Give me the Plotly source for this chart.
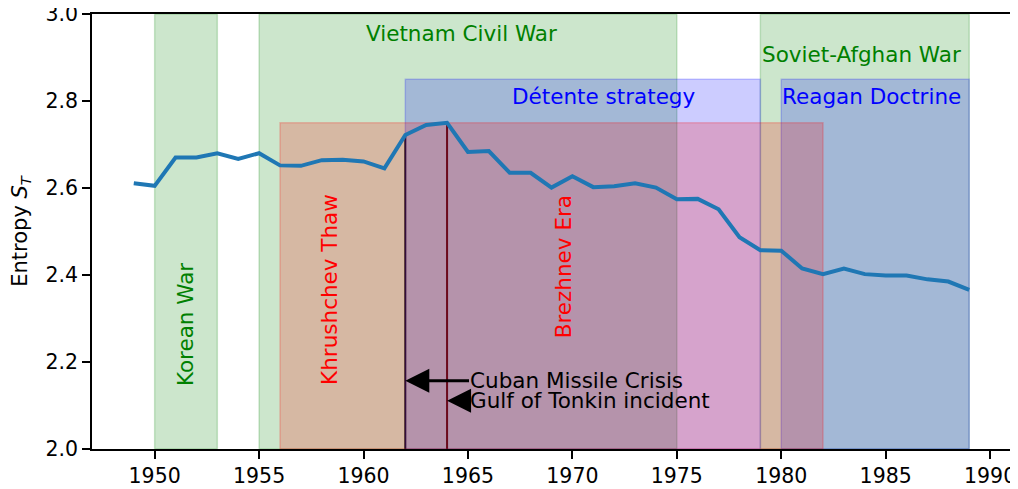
import plotly.graph_objects as go

years = list(range(1949, 1990))
entropy = [2.611, 2.605, 2.670, 2.670, 2.680, 2.667, 2.680, 2.652, 2.651, 2.664,
           2.665, 2.661, 2.645, 2.722, 2.745, 2.750, 2.683, 2.685, 2.635, 2.635,
           2.601, 2.627, 2.602, 2.604, 2.611, 2.601, 2.574, 2.575, 2.551, 2.487,
           2.457, 2.456, 2.415, 2.402, 2.415, 2.402, 2.399, 2.399, 2.390, 2.385,
           2.366]

# spans: (label, start, end, top, colour)
span_labels = ["Korean War", "Vietnam Civil War", "Soviet-Afghan War",
               "Détente strategy", "Reagan Doctrine", "Khrushchev Thaw", "Brezhnev Era"]
span_start = [1950, 1955, 1979, 1962, 1980, 1956, 1964]
span_end = [1953, 1975, 1989, 1979, 1989, 1964, 1982]
span_top = [3.0, 3.0, 3.0, 2.85, 2.85, 2.75, 2.75]
span_rgb = ["0,128,0", "0,128,0", "0,128,0", "0,0,255", "0,0,255", "255,0,0", "255,0,0"]

# label positions
label_x = [1951.45, 1964.7, 1983.85, 1971.5, 1984.3, 1958.4, 1969.55]
label_y = [2.287, 2.955, 2.908, 2.81, 2.81, 2.366, 2.42]
label_angle = [-90, 0, 0, 0, 0, -90, -90]
label_color = ["green", "green", "green", "blue", "blue", "red", "red"]

events = ["Cuban Missile Crisis", "Gulf of Tonkin incident"]
event_year = [1962, 1964]
event_arrow_y = [2.157, 2.111]
event_text_x = [1965.05, 1965.05]

FONT = "DejaVu Sans"
TICKFONT = dict(family=FONT, size=20.5, color="black")

fig = go.Figure()

shapes = []
# event vertical lines (drawn first, under the spans)
for yr in event_year:
    val = entropy[years.index(yr)]
    shapes.append(dict(type="line", xref="x", yref="y", x0=yr, x1=yr, y0=2.0, y1=val,
                       line=dict(color="black", width=2), layer="below"))
for s, e, t, c in zip(span_start, span_end, span_top, span_rgb):
    shapes.append(dict(type="rect", xref="x", yref="y", x0=s, x1=e, y0=2.0, y1=t,
                       fillcolor=f"rgba({c},0.2)",
                       line=dict(color=f"rgba({c},0.2)", width=1.5), layer="below"))

fig.add_trace(go.Scatter(x=years, y=entropy, mode="lines",
                         line=dict(color="#1f77b4", width=4), showlegend=False,
                         hoverinfo="skip"))

annotations = []
for lab, lx, ly, ang, col in zip(span_labels, label_x, label_y, label_angle, label_color):
    annotations.append(dict(x=lx, y=ly, xref="x", yref="y", text=lab, showarrow=False,
                            textangle=ang, font=dict(family=FONT, size=21.5, color=col),
                            xanchor="center", yanchor="middle"))
for ev, yr, ay, tx in zip(events, event_year, event_arrow_y, event_text_x):
    annotations.append(dict(x=yr, y=ay, xref="x", yref="y", ax=tx, ay=ay, axref="x", ayref="y",
                            text=ev, showarrow=True, arrowhead=2, arrowsize=1.6,
                            arrowwidth=3, arrowcolor="black", standoff=0,
                            xanchor="left", yanchor="middle",
                            font=dict(family=FONT, size=21.5, color="black"),
                            borderpad=0))

# page body has an 8px margin, so the figure is made 8px smaller and offset accordingly
fig.update_layout(
    width=1010, height=481,
    margin=dict(l=84, r=7, t=6, b=40),
    plot_bgcolor="white", paper_bgcolor="white",
    shapes=shapes, annotations=annotations,
    font=dict(family=FONT, size=20, color="black"),
    xaxis=dict(range=[1947, 1991], tickmode="array", tickvals=list(range(1950, 1991, 5)),
               ticks="outside", ticklen=8, tickwidth=1.5, tickcolor="black",
               tickfont=TICKFONT, automargin=False, ticklabeloverflow="allow",
               showline=True, linecolor="black", linewidth=1.5, mirror=True,
               showgrid=False, zeroline=False),
    yaxis=dict(range=[2.0, 3.0], tickmode="array", tickvals=[2.0, 2.2, 2.4, 2.6, 2.8, 3.0],
               tickformat=".1f", ticks="outside", ticklen=8, tickwidth=1.5, tickcolor="black",
               tickfont=TICKFONT, automargin=False, ticklabeloverflow="allow",
               showline=True, linecolor="black", linewidth=1.5, mirror=True,
               showgrid=False, zeroline=False,
               title=dict(text="Entropy <i>S</i><sub><i>T</i></sub>", standoff=14,
                          font=dict(family=FONT, size=21))),
)

fig.write_html("out.html")
